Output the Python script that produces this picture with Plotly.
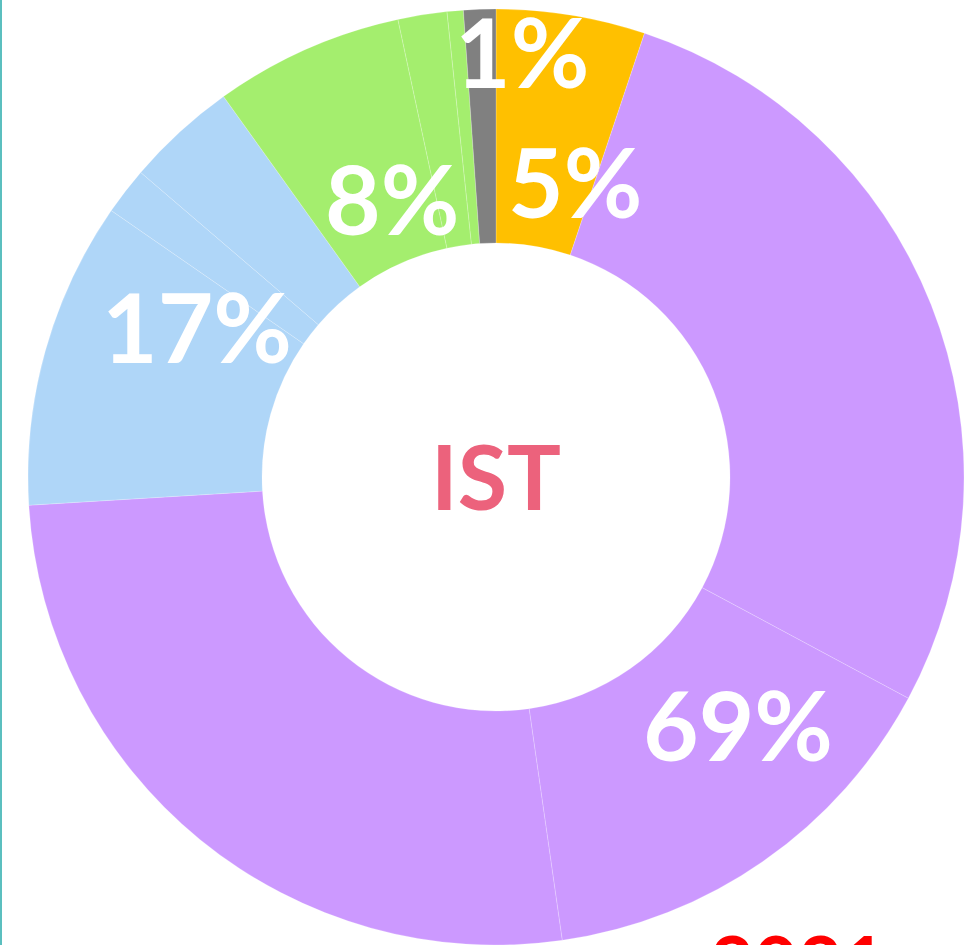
import plotly.graph_objects as go

# Slice data (clockwise from 12 o'clock), percent of the full ring
slice_names = ["Orange", "Purple A", "Purple B", "Purple C",
               "Blue A", "Blue B", "Blue C",
               "Green A", "Green B", "Green C", "Gray"]
slice_values = [5.14, 27.7, 14.9, 26.3, 10.6, 1.64, 3.83, 6.53, 1.69, 0.56, 1.11]
slice_colors = ["#FFC000", "#CC99FF", "#CC99FF", "#CC99FF",
                "#AFD6F8", "#AFD6F8", "#AFD6F8",
                "#A4EE6E", "#A4EE6E", "#A4EE6E", "#808080"]

# Group labels as shown on the chart
label_texts = ["1%", "5%", "8%", "17%", "69%"]
label_px = [(522, 50), (575, 180), (392, 197), (197, 325), (738, 723)]
center_text = "IST"
year_text = "2021"

W, H = 969, 945

fig = go.Figure(go.Pie(
    labels=slice_names,
    values=slice_values,
    marker=dict(colors=slice_colors,
                line=dict(color="rgba(255,255,255,0.35)", width=0.6)),
    hole=0.5,
    sort=False,
    direction="clockwise",
    rotation=0,
    textinfo="none",
    hoverinfo="label+percent",
    showlegend=False,
    domain=dict(x=[25 / W, 967 / W], y=[0.0, 2 * (H - 477) / H]),
))

def px2paper(x, y):
    return x / W, (H - y) / H

annotations = []
for t, (x, y) in zip(label_texts, label_px):
    ax, ay = px2paper(x, y)
    annotations.append(dict(text=t, x=ax, y=ay, xref="paper", yref="paper",
                            xanchor="center", yanchor="middle", showarrow=False,
                            font=dict(family="Lato", size=96, color="white", weight="bold")))
cx, cy = px2paper(496, 475)
annotations.append(dict(text=center_text, x=cx, y=cy, xref="paper", yref="paper",
                        xanchor="center", yanchor="middle", showarrow=False,
                        font=dict(family="Lato", size=90, color="#EC627C", weight="bold")))
yx, yy = px2paper(798, 962)
annotations.append(dict(text=year_text, x=yx, y=yy, xref="paper", yref="paper",
                        xanchor="center", yanchor="middle", showarrow=False,
                        font=dict(family="Lato", size=76, color="#FF0000", weight="bold")))

fig.update_layout(
    width=W, height=H,
    margin=dict(l=0, r=0, t=0, b=0),
    paper_bgcolor="white",
    plot_bgcolor="white",
    annotations=annotations,
    shapes=[dict(type="line", xref="paper", yref="paper",
                 x0=1 / W, x1=1 / W, y0=0, y1=1,
                 line=dict(color="#5BBFBF", width=2))],
)

fig.write_html(
    "out.html",
    config={"displayModeBar": False},
    post_script="document.body.style.margin='0';document.body.style.overflow='hidden';",
)
